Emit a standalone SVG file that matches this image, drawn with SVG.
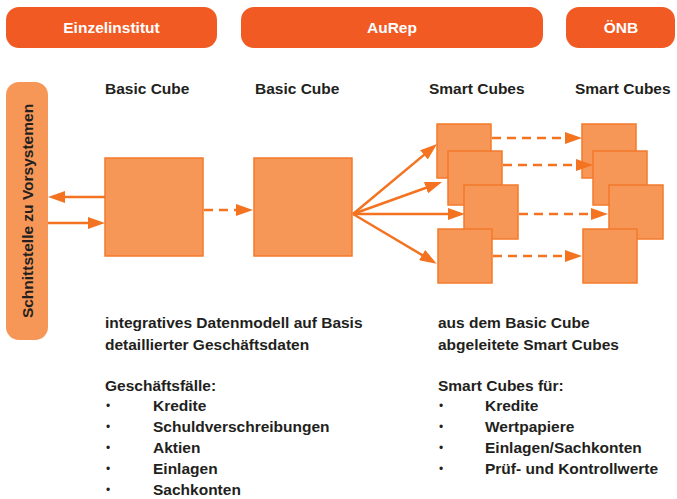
<svg xmlns="http://www.w3.org/2000/svg" width="677" height="499" viewBox="0 0 677 499">
<style>
.hdr{fill:#F15A22}
.hdrt{font-family:"Liberation Sans",Arial,sans-serif;font-weight:bold;font-size:15.5px;fill:#FFFFFF;text-anchor:middle}
.cube{fill:#F69657;stroke:#F47A2C;stroke-width:1.5}
.bar{fill:#F69657}
.t{font-family:"Liberation Sans",Arial,sans-serif;font-weight:bold;font-size:15.5px;fill:#231F20}
.bul{font-family:"Liberation Sans",Arial,sans-serif;font-size:12px;fill:#231F20}
.ln{fill:none;stroke:#F47321;stroke-width:2.5}
.dash{stroke-dasharray:9 6}
</style>
<defs>
<marker id="ah" markerUnits="userSpaceOnUse" markerWidth="17" markerHeight="12" refX="9" refY="6" orient="auto" viewBox="0 0 17 12">
<path d="M0,0 L17,6 L0,12 Z" fill="#F47321"/>
</marker>
</defs>

<g id="einzelinstitut"><rect class="hdr" x="6" y="7" width="211" height="41" rx="13"/><text class="hdrt" x="111.5" y="33">Einzelinstitut</text></g>
<g id="aurep"><rect class="hdr" x="241" y="7" width="302" height="41" rx="13"/><text class="hdrt" x="392" y="33">AuRep</text></g>
<g id="oenb"><rect class="hdr" x="566" y="7" width="109" height="41" rx="13"/><text class="hdrt" x="621" y="33">ÖNB</text></g>

<g id="schnittstelle"><rect class="bar" x="6" y="82" width="42" height="258" rx="13"/><text class="t" transform="translate(33,211) rotate(-90)" text-anchor="middle">Schnittstelle zu Vorsystemen</text></g>

<g id="labels">
<text class="t" x="105" y="94">Basic Cube</text>
<text class="t" x="255" y="94">Basic Cube</text>
<text class="t" x="429" y="94">Smart Cubes</text>
<text class="t" x="575" y="94">Smart Cubes</text>
</g>

<g id="basic-cube-1"><rect class="cube" x="105" y="158" width="98" height="98"/></g>
<g id="basic-cube-2"><rect class="cube" x="254" y="158" width="98" height="98"/></g>

<g id="smart-cube-l1"><rect class="cube" x="437" y="124" width="54" height="54"/></g>
<g id="smart-cube-l2"><rect class="cube" x="448" y="151" width="54" height="54"/></g>
<g id="smart-cube-l3"><rect class="cube" x="464" y="185" width="54" height="54"/></g>
<g id="smart-cube-l4"><rect class="cube" x="438" y="229" width="54" height="54"/></g>

<g id="smart-cube-r1"><rect class="cube" x="582" y="124" width="54" height="54"/></g>
<g id="smart-cube-r2"><rect class="cube" x="593" y="151" width="54" height="54"/></g>
<g id="smart-cube-r3"><rect class="cube" x="609" y="185" width="54" height="54"/></g>
<g id="smart-cube-r4"><rect class="cube" x="583" y="229" width="54" height="54"/></g>

<g id="connectors">
<path class="ln" d="M105,197 L56,197" marker-end="url(#ah)"/>
<path class="ln" d="M48,223 L97,223" marker-end="url(#ah)"/>
<path class="ln dash" d="M204,210 L245,210" marker-end="url(#ah)"/>
<path class="ln" d="M353,214 L430.9,149.1" marker-end="url(#ah)"/>
<path class="ln" d="M353,214 L434.5,184.7" marker-end="url(#ah)"/>
<path class="ln" d="M353,214 L457,214" marker-end="url(#ah)"/>
<path class="ln" d="M353,214 L429.8,259.6" marker-end="url(#ah)"/>
<path class="ln dash" d="M492,138 L574,138" marker-end="url(#ah)"/>
<path class="ln dash" d="M503,165 L585,165" marker-end="url(#ah)"/>
<path class="ln dash" d="M519,214 L600,214" marker-end="url(#ah)"/>
<path class="ln dash" d="M493,256 L574,256" marker-end="url(#ah)"/>
</g>

<g id="text-left">
<text class="t" x="105" y="328">integratives Datenmodell auf Basis</text>
<text class="t" x="105" y="350">detaillierter Geschäftsdaten</text>
<text class="t" x="105" y="391">Geschäftsfälle:</text>
<text class="bul" x="106" y="410">•</text><text class="t" x="153" y="411">Kredite</text>
<text class="bul" x="106" y="431">•</text><text class="t" x="153" y="432">Schuldverschreibungen</text>
<text class="bul" x="106" y="452">•</text><text class="t" x="153" y="453">Aktien</text>
<text class="bul" x="106" y="473">•</text><text class="t" x="153" y="474">Einlagen</text>
<text class="bul" x="106" y="494">•</text><text class="t" x="153" y="495">Sachkonten</text>
</g>

<g id="text-right">
<text class="t" x="438" y="328">aus dem Basic Cube</text>
<text class="t" x="438" y="350">abgeleitete Smart Cubes</text>
<text class="t" x="438" y="391">Smart Cubes für:</text>
<text class="bul" x="439" y="410">•</text><text class="t" x="485" y="411">Kredite</text>
<text class="bul" x="439" y="431">•</text><text class="t" x="485" y="432">Wertpapiere</text>
<text class="bul" x="439" y="452">•</text><text class="t" x="485" y="453">Einlagen/Sachkonten</text>
<text class="bul" x="439" y="473">•</text><text class="t" x="485" y="474">Prüf- und Kontrollwerte</text>
</g>
</svg>
